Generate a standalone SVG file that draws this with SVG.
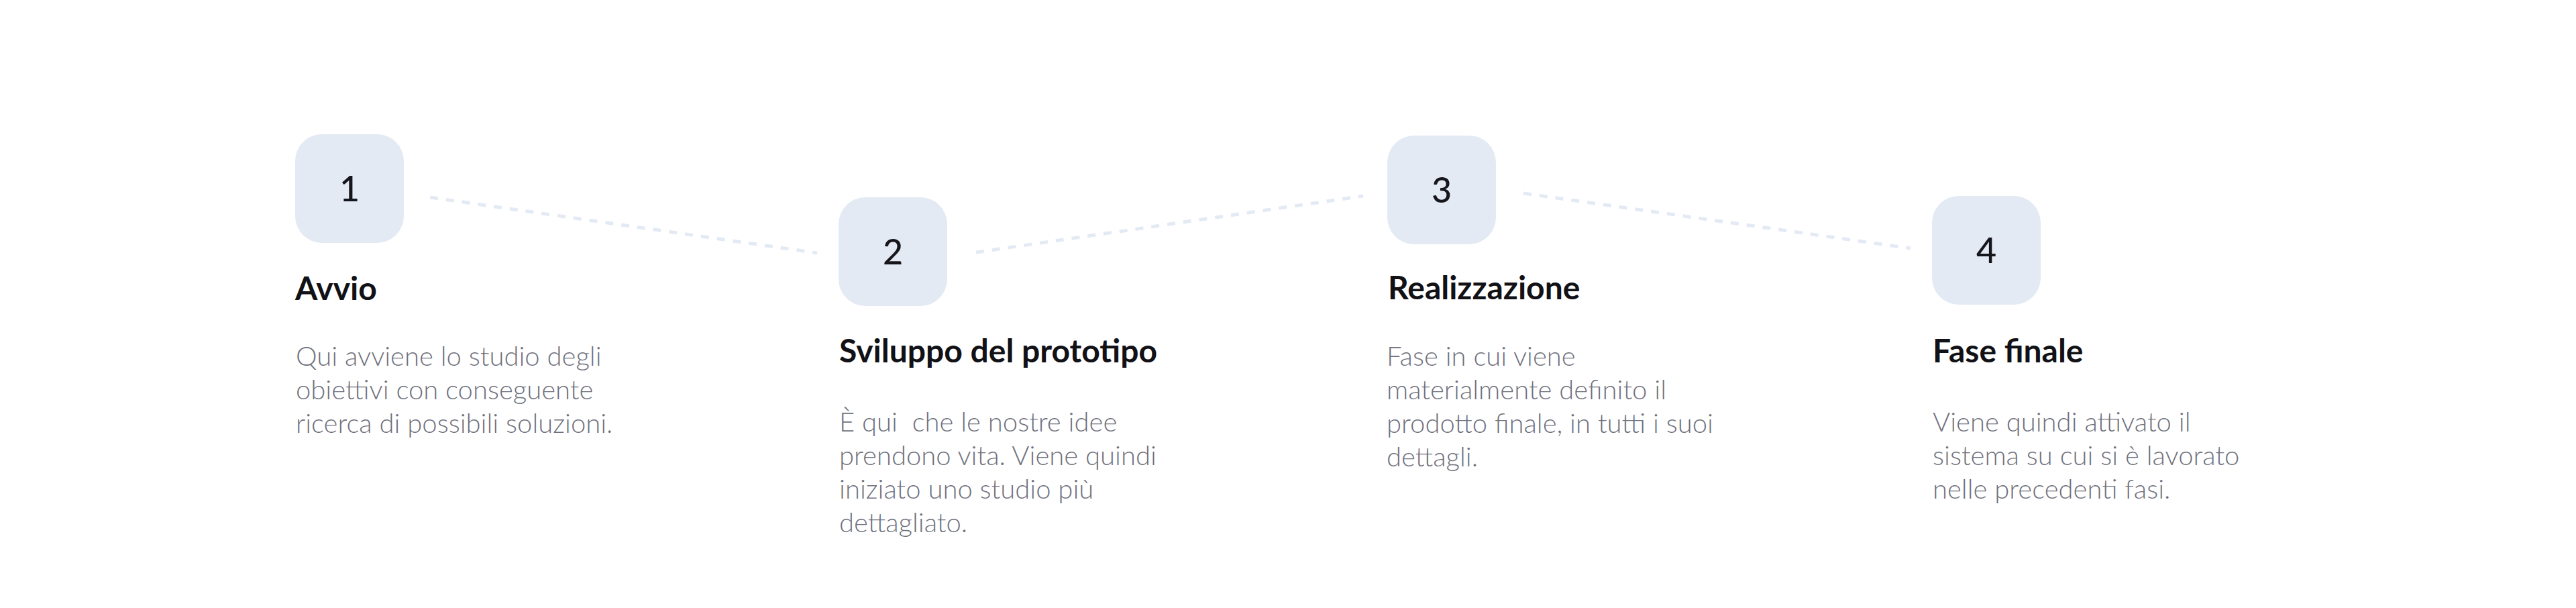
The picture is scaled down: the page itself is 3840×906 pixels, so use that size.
<svg xmlns="http://www.w3.org/2000/svg" width="3840" height="906" viewBox="0 0 3840 906">
  <style>
    .box { fill: #e3eaf3; }
    .num { font-family: Lato, "Noto Sans", sans-serif; font-size: 52px; font-weight: 500; fill: #15151b; text-anchor: middle; }
    .title { font-family: Lato, "Noto Sans", sans-serif; font-size: 48px; font-weight: 700; fill: #111116; }
    .body { font-family: Lato, "Noto Sans", sans-serif; font-size: 40px; font-weight: 300; fill: #6f717d; }
    .conn { stroke: #e3eaf3; stroke-width: 5; stroke-dasharray: 12 12; fill: none; }
  </style>
  <rect width="3840" height="906" fill="#ffffff"/>
  <g id="connectors">
    <line class="conn" x1="641" y1="294" x2="1218" y2="377"/>
    <line class="conn" x1="1455" y1="376" x2="2032" y2="292"/>
    <line class="conn" x1="2271" y1="288" x2="2848" y2="370"/>
  </g>
  <g id="step1">
    <rect class="box" x="440" y="200" width="162" height="162" rx="40"/>
    <text class="num" x="521" y="300">1</text>
    <text class="title" x="440" y="447">Avvio</text>
    <text class="body" x="441" y="545">Qui avviene lo studio degli</text>
    <text class="body" x="441" y="595">obiettivi con conseguente</text>
    <text class="body" x="441" y="645">ricerca di possibili soluzioni.</text>
  </g>
  <g id="step2">
    <rect class="box" x="1250" y="294" width="162" height="162" rx="40"/>
    <text class="num" x="1331" y="394">2</text>
    <text class="title" x="1251" y="540">Sviluppo del prototipo</text>
    <text class="body" x="1251" y="643" xml:space="preserve">È qui  che le nostre idee</text>
    <text class="body" x="1251" y="693">prendono vita. Viene quindi</text>
    <text class="body" x="1251" y="743">iniziato uno studio più</text>
    <text class="body" x="1251" y="793">dettagliato.</text>
  </g>
  <g id="step3">
    <rect class="box" x="2068" y="202" width="162" height="162" rx="40"/>
    <text class="num" x="2149" y="302">3</text>
    <text class="title" x="2069" y="446">Realizzazione</text>
    <text class="body" x="2067" y="545">Fase in cui viene</text>
    <text class="body" x="2067" y="595">materialmente definito il</text>
    <text class="body" x="2067" y="645">prodotto finale, in tutti i suoi</text>
    <text class="body" x="2067" y="695">dettagli.</text>
  </g>
  <g id="step4">
    <rect class="box" x="2880" y="292" width="162" height="162" rx="40"/>
    <text class="num" x="2961" y="392">4</text>
    <text class="title" x="2881" y="540">Fase finale</text>
    <text class="body" x="2881" y="643">Viene quindi attivato il</text>
    <text class="body" x="2881" y="693">sistema su cui si è lavorato</text>
    <text class="body" x="2881" y="743">nelle precedenti fasi.</text>
  </g>
</svg>
